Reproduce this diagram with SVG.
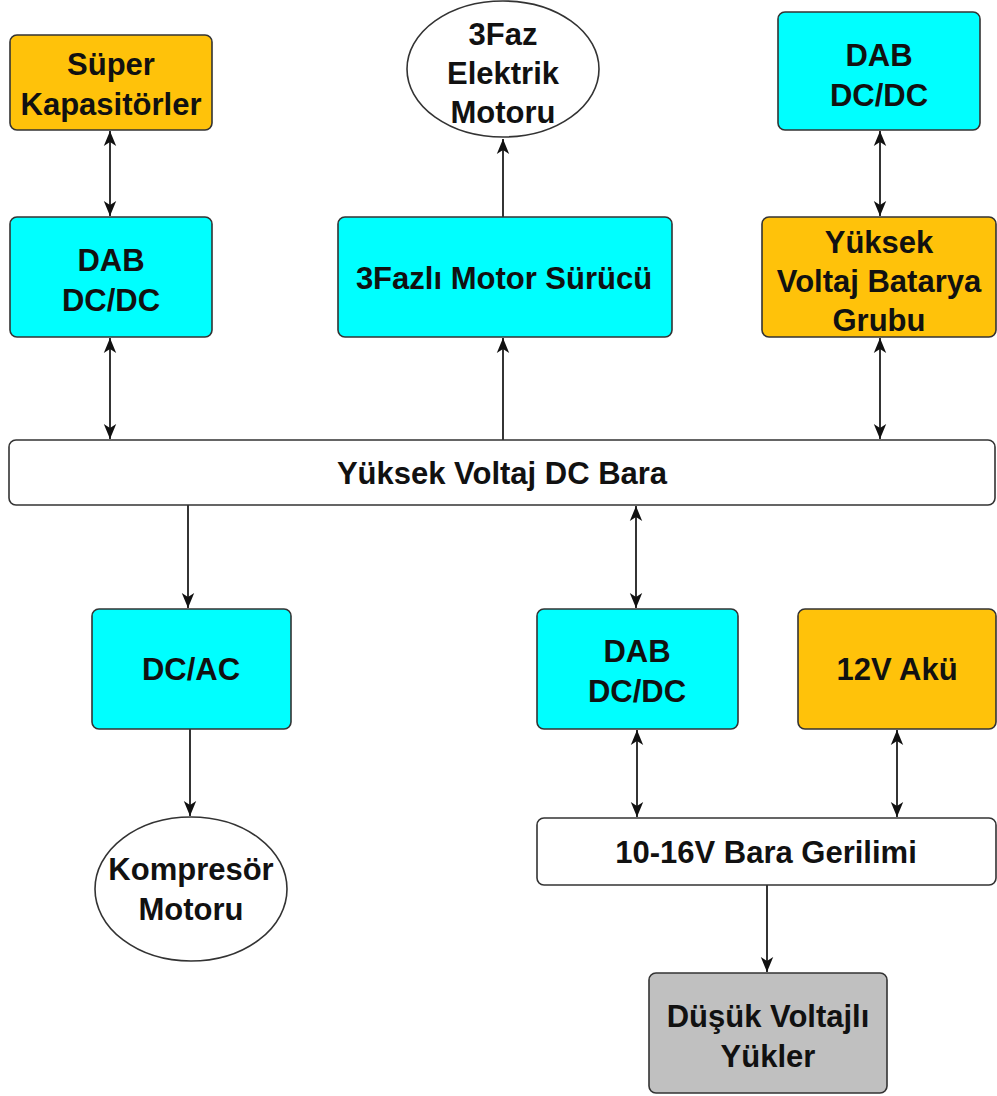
<svg xmlns="http://www.w3.org/2000/svg" width="997" height="1096" viewBox="0 0 997 1096">
<style>
.box{stroke:#333;stroke-width:1.6}
.cyan{fill:#00FFFF}
.orange{fill:#FFC20A}
.white{fill:#FFFFFF}
.gray{fill:#C0C0C0}
.t{font-family:"Liberation Sans",Arial,sans-serif;font-weight:bold;font-size:31px;fill:#111;text-anchor:middle}
.c{stroke:#111;stroke-width:1.7;fill:none}
</style>
<defs>
<marker id="ah" markerUnits="userSpaceOnUse" markerWidth="16" markerHeight="14" refX="15" refY="7" orient="auto-start-reverse">
<path d="M0,0.8 L15,7 L0,13.2 L4,7 Z" fill="#111"/>
</marker>
</defs>
<rect width="997" height="1096" fill="#FFFFFF"/>
<g id="connectors">
<line class="c" x1="110" y1="131" x2="110" y2="216" marker-start="url(#ah)" marker-end="url(#ah)"/>
<line class="c" x1="110" y1="338" x2="110" y2="439" marker-start="url(#ah)" marker-end="url(#ah)"/>
<line class="c" x1="503" y1="440" x2="503" y2="338" marker-end="url(#ah)"/>
<line class="c" x1="503" y1="217" x2="503" y2="139" marker-end="url(#ah)"/>
<line class="c" x1="880" y1="131" x2="880" y2="216" marker-start="url(#ah)" marker-end="url(#ah)"/>
<line class="c" x1="880" y1="338" x2="880" y2="439" marker-start="url(#ah)" marker-end="url(#ah)"/>
<line class="c" x1="188" y1="505" x2="188" y2="608" marker-end="url(#ah)"/>
<line class="c" x1="636" y1="506" x2="636" y2="608" marker-start="url(#ah)" marker-end="url(#ah)"/>
<line class="c" x1="190" y1="729" x2="190" y2="816" marker-end="url(#ah)"/>
<line class="c" x1="637" y1="730" x2="637" y2="817" marker-start="url(#ah)" marker-end="url(#ah)"/>
<line class="c" x1="897" y1="730" x2="897" y2="817" marker-start="url(#ah)" marker-end="url(#ah)"/>
<line class="c" x1="767" y1="885" x2="767" y2="972" marker-end="url(#ah)"/>
</g>
<g id="super-kapasitorler">
<rect class="box orange" x="10" y="35" width="202" height="95" rx="7"/>
<text class="t" x="111" y="75">Süper</text>
<text class="t" x="111" y="115">Kapasitörler</text>
</g>
<g id="dab-left">
<rect class="box cyan" x="10" y="217" width="202" height="120" rx="7"/>
<text class="t" x="111" y="271">DAB</text>
<text class="t" x="111" y="311">DC/DC</text>
</g>
<g id="motor-3faz">
<ellipse class="box white" cx="503" cy="69" rx="96" ry="68"/>
<text class="t" x="503" y="45">3Faz</text>
<text class="t" x="503" y="84">Elektrik</text>
<text class="t" x="503" y="123">Motoru</text>
</g>
<g id="motor-surucu">
<rect class="box cyan" x="338" y="217" width="334" height="120" rx="7"/>
<text class="t" x="504" y="289">3Fazlı Motor Sürücü</text>
</g>
<g id="dab-top-right">
<rect class="box cyan" x="778" y="12" width="202" height="118" rx="7"/>
<text class="t" x="879" y="66">DAB</text>
<text class="t" x="879" y="106">DC/DC</text>
</g>
<g id="batarya">
<rect class="box orange" x="762" y="217" width="234" height="120" rx="7"/>
<text class="t" x="879" y="253">Yüksek</text>
<text class="t" x="879" y="292">Voltaj Batarya</text>
<text class="t" x="879" y="331">Grubu</text>
</g>
<g id="dc-bara">
<rect class="box white" x="9" y="440" width="986" height="65" rx="7"/>
<text class="t" x="502" y="484">Yüksek Voltaj DC Bara</text>
</g>
<g id="dc-ac">
<rect class="box cyan" x="92" y="609" width="199" height="120" rx="7"/>
<text class="t" x="191" y="680">DC/AC</text>
</g>
<g id="kompresor">
<ellipse class="box white" cx="191" cy="889" rx="96" ry="72"/>
<text class="t" x="191" y="880">Kompresör</text>
<text class="t" x="191" y="920">Motoru</text>
</g>
<g id="dab-bottom">
<rect class="box cyan" x="537" y="609" width="201" height="120" rx="7"/>
<text class="t" x="637" y="662">DAB</text>
<text class="t" x="637" y="702">DC/DC</text>
</g>
<g id="aku">
<rect class="box orange" x="798" y="609" width="198" height="120" rx="7"/>
<text class="t" x="897" y="680">12V Akü</text>
</g>
<g id="bara-10-16">
<rect class="box white" x="537" y="818" width="459" height="67" rx="7"/>
<text class="t" x="766" y="863">10-16V Bara Gerilimi</text>
</g>
<g id="dusuk-yukler">
<rect class="box gray" x="649" y="973" width="238" height="120" rx="7"/>
<text class="t" x="768" y="1027">Düşük Voltajlı</text>
<text class="t" x="768" y="1067">Yükler</text>
</g>
</svg>
